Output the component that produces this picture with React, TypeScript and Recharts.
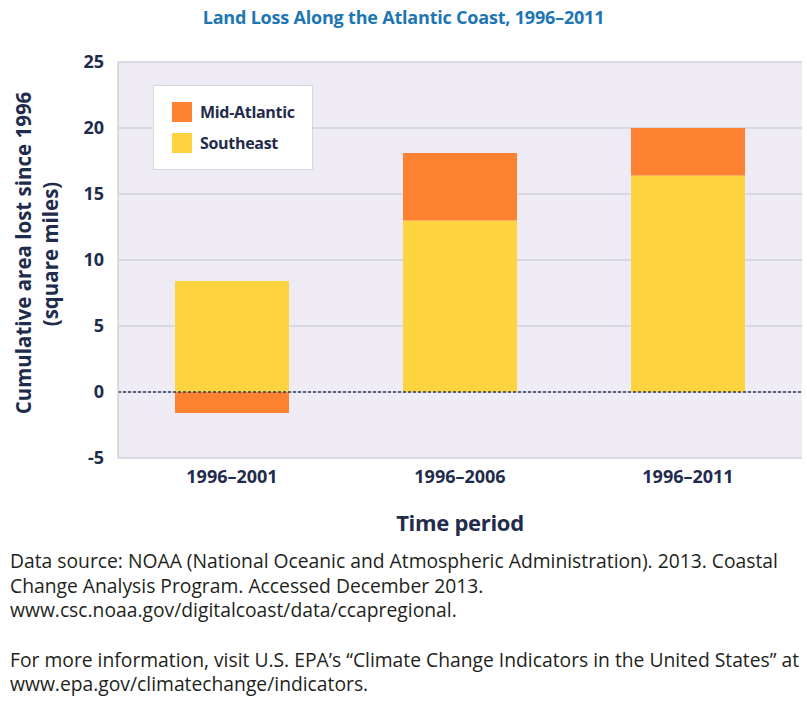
import React from "react";
import {
  BarChart,
  Bar,
  XAxis,
  YAxis,
  CartesianGrid,
  ReferenceLine,
} from "recharts";

const periods = ["1996–2001", "1996–2006", "1996–2011"];
const southeast = [8.4, 13.0, 16.4];
const midAtlantic = [-1.6, 5.1, 3.6];
const yTicks = [-5, 0, 5, 10, 15, 20, 25];

const data = periods.map((p, i) => ({
  period: p,
  southeast: southeast[i],
  midAtlantic: midAtlantic[i],
}));

const NAVY = "#1f2c4c";
const ORANGE = "#FC8232";
const YELLOW = "#FDD440";
const FONT = "'Open Sans', 'Noto Sans', sans-serif";

const legendItems = [
  { label: "Mid-Atlantic", color: ORANGE },
  { label: "Southeast", color: YELLOW },
];

const YLabel = () => (
  <g>
    <text
      transform="translate(23,253) rotate(-90)"
      textAnchor="middle"
      dominantBaseline="central"
      fill={NAVY}
      fontFamily={FONT}
      fontWeight={700}
      fontSize={20.5}
    >
      Cumulative area lost since 1996
    </text>
    <text
      transform="translate(50,254) rotate(-90)"
      textAnchor="middle"
      dominantBaseline="central"
      fill={NAVY}
      fontFamily={FONT}
      fontWeight={700}
      fontSize={20.5}
    >
      (square miles)
    </text>
  </g>
);

const footLines1 = [
  "Data source: NOAA (National Oceanic and Atmospheric Administration). 2013. Coastal",
  "Change Analysis Program. Accessed December 2013.",
  "www.csc.noaa.gov/digitalcoast/data/ccapregional.",
];
const footLines2 = [
  "For more information, visit U.S. EPA’s “Climate Change Indicators in the United States” at",
  "www.epa.gov/climatechange/indicators.",
];

export default function App() {
  return (
    <div
      style={{
        position: "absolute",
        left: 0,
        top: 0,
        width: 807,
        height: 713,
        background: "#ffffff",
        overflow: "hidden",
        fontFamily: FONT,
      }}
    >
      <div
        style={{
          position: "absolute",
          top: 5,
          left: 0,
          width: 807,
          textAlign: "center",
          color: "#1d76b3",
          fontWeight: 700,
          fontSize: 18,
          letterSpacing: -0.2,
        }}
      >
        Land Loss Along the Atlantic Coast, 1996–2011
      </div>
      <div style={{ position: "absolute", left: 0, top: 0 }}>
        <BarChart
          width={807}
          height={500}
          data={data}
          stackOffset="sign"
          margin={{ top: 62, right: 5, bottom: 12, left: 0 }}
        >
          <CartesianGrid
            vertical={false}
            fill="#EEEBF5"
            stroke="#d2d0d9"
            strokeWidth={1.5}
          />
          <XAxis
            dataKey="period"
            height={30}
            tickLine={false}
            axisLine={false}
            tickSize={0}
            tickMargin={12}
            tick={{ fill: NAVY, fontSize: 18, fontWeight: 700, fontFamily: FONT }}
          />
          <YAxis
            width={118}
            domain={[-5, 25]}
            ticks={yTicks}
            interval={0}
            tickLine={false}
            axisLine={{ stroke: "#d2d0d9", strokeWidth: 1.5 }}
            tickSize={0}
            tickMargin={14}
            tick={{ fill: NAVY, fontSize: 18, fontWeight: 700, fontFamily: FONT }}
            label={{ content: () => <YLabel /> }}
          />
          <Bar
            dataKey="southeast"
            name="Southeast"
            stackId="a"
            fill={YELLOW}
            barSize={114}
            isAnimationActive={false}
          />
          <Bar
            dataKey="midAtlantic"
            name="Mid-Atlantic"
            stackId="a"
            fill={ORANGE}
            barSize={114}
            isAnimationActive={false}
          />
          <ReferenceLine
            y={0}
            stroke="#2d3a5c"
            strokeWidth={1.5}
            strokeDasharray="3 2"
          />
        </BarChart>
      </div>
      <div
        style={{
          position: "absolute",
          left: 153,
          top: 85,
          width: 160,
          height: 85,
          background: "#ffffff",
          border: "1px solid #d8d6de",
          boxSizing: "border-box",
          paddingTop: 16,
          paddingLeft: 18,
        }}
      >
        {legendItems.map((it) => (
          <div
            key={it.label}
            style={{ display: "flex", alignItems: "center", height: 20, marginBottom: 11 }}
          >
            <div style={{ width: 20, height: 20, background: it.color, marginRight: 8 }} />
            <span style={{ fontSize: 16, fontWeight: 700, color: NAVY, letterSpacing: -0.3 }}>
              {it.label}
            </span>
          </div>
        ))}
      </div>
      <div
        style={{
          position: "absolute",
          top: 507,
          left: 0,
          width: 920,
          textAlign: "center",
          color: NAVY,
          fontWeight: 700,
          fontSize: 22,
          letterSpacing: -0.3,
        }}
      >
        Time period
      </div>
      <div
        style={{
          position: "absolute",
          top: 549,
          left: 10,
          color: "#231f20",
          fontSize: 19.3,
          lineHeight: "24.5px",
          letterSpacing: 0,
          whiteSpace: "nowrap",
        }}
      >
        {footLines1.map((l) => (
          <div key={l}>{l}</div>
        ))}
        <div style={{ height: 25 }} />
        {footLines2.map((l) => (
          <div key={l}>{l}</div>
        ))}
      </div>
    </div>
  );
}
